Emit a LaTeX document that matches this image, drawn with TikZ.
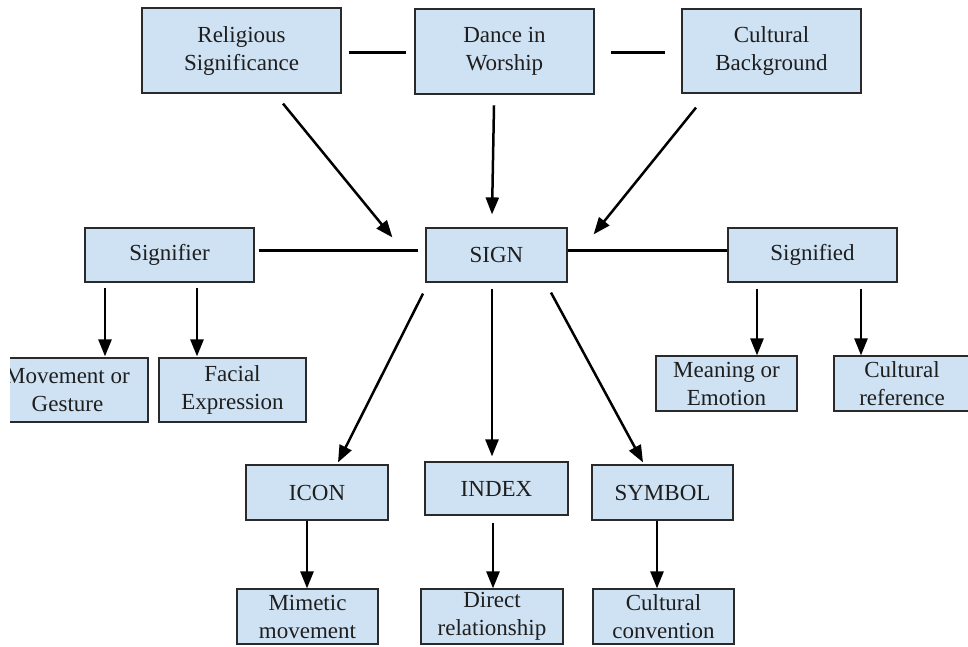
\documentclass[tikz,border=0pt]{standalone}
\usepackage{fontspec}
\setmainfont{Liberation Serif}
\usetikzlibrary{arrows.meta,calc}
\definecolor{boxfill}{HTML}{CFE2F3}
\definecolor{boxline}{HTML}{2A2A2A}
\definecolor{inkc}{HTML}{1E1E1E}
\begin{document}
\begin{tikzpicture}[x=1pt,y=-1pt,
  box/.style={draw=boxline, fill=boxfill, line width=1.2pt, inner sep=0pt, align=center,
    text=inkc, font=\fontsize{23}{28}\selectfont},
  link/.style={draw=black, line width=3pt},
  arr/.style={draw=black, line width=2.5pt, -{Triangle[length=17pt,width=13pt]}}]
\useasboundingbox[fill=white] (0,0) rectangle (968,646);
% top row
\node[box, minimum width=199pt, minimum height=85pt] (rel) at (241.5,50.5) {Religious\\Significance};
\node[box, line width=2.6pt, minimum width=179pt, minimum height=85pt] (dance) at (504.5,51.5) {Dance in\\Worship};
\node[box, minimum width=179pt, minimum height=84pt] (cult) at (771.5,51) {Cultural\\Background};
% middle row
\node[box, minimum width=169pt, minimum height=54pt] (signifier) at (169.5,255) {Signifier};
\node[box, minimum width=141pt, minimum height=54pt] (sign) at (496.5,255) {SIGN};
\node[box, minimum width=169pt, minimum height=54pt] (signified) at (812.5,255) {Signified};
% leaves of signifier / signified
\begin{scope}
\clip (10,330) rectangle (200,440);
\node[box, minimum width=161pt, minimum height=64pt] (move) at (67.5,390) {Movement or\\Gesture};
\end{scope}
\node[box, minimum width=147pt, minimum height=64pt] (facial) at (232.5,390) {Facial\\Expression};
\node[box, minimum width=141pt, minimum height=55pt] (meaning) at (726.5,383.5) {Meaning or\\Emotion};
\node[box, minimum width=136pt, minimum height=55pt] (culref) at (902,383.5) {Cultural\\reference};
% sign types
\node[box, minimum width=142pt, minimum height=55pt] (icon) at (317,492.5) {ICON};
\node[box, minimum width=143pt, minimum height=53pt] (index) at (496.5,488.5) {INDEX};
\node[box, minimum width=141pt, minimum height=55pt] (symbol) at (662.5,492.5) {SYMBOL};
\node[box, minimum width=141pt, minimum height=55pt] (mimetic) at (307.5,616.5) {Mimetic\\movement};
\node[box, minimum width=142pt, minimum height=55pt] (direct) at (492,616.5) {Direct\\relationship};
\node[box, minimum width=141pt, minimum height=55pt] (convention) at (663.5,616.5) {Cultural\\convention};
% plain links
\draw[link, shorten <=7pt, shorten >=8pt] ([yshift=-1.5pt]rel.east) -- ([yshift=-0.5pt]dance.west);
\draw[link, shorten <=16pt, shorten >=16pt] ([yshift=-0.5pt]dance.east) -- ([yshift=-1pt]cult.west);
\draw[link] ([xshift=4pt,yshift=5pt]signifier.east) -- ([xshift=-7pt,yshift=5pt]sign.west);
\draw[link] ([yshift=5pt]sign.east) -- ([yshift=5pt]signified.west);
% arrows
\draw[arr] ([xshift=41.5pt,yshift=-10pt]rel.south) -- ([xshift=-33pt,yshift=-10pt]sign.north west);
\draw[arr] ([xshift=-10.5pt,yshift=-10pt]dance.south) -- ([xshift=-4.5pt,yshift=13pt]sign.north);
\draw[arr] ([xshift=-75.5pt,yshift=-14pt]cult.south) -- ([xshift=26pt,yshift=-7pt]sign.north east);
\draw[arr] ([xshift=-64.5pt,yshift=-5pt]signifier.south) -- ([xshift=37.5pt,yshift=1pt]move.north);
\draw[arr] ([xshift=27.5pt,yshift=-5pt]signifier.south) -- ([xshift=-35.5pt,yshift=1pt]facial.north);
\draw[arr] ([xshift=-55.5pt,yshift=-6pt]signified.south) -- ([xshift=30.5pt]meaning.north);
\draw[arr] ([xshift=48.5pt,yshift=-6pt]signified.south) -- ([xshift=-41pt]culref.north);
\draw[arr] ([xshift=-73.5pt,yshift=-11pt]sign.south) -- ([xshift=21pt,yshift=2pt]icon.north);
\draw[arr] ([xshift=-4.5pt,yshift=-6pt]sign.south) -- ([xshift=-4.5pt,yshift=5pt]index.north);
\draw[arr] ([xshift=54.5pt,yshift=-10pt]sign.south) -- ([xshift=-19.5pt,yshift=2pt]symbol.north);
\draw[arr] ([xshift=-10pt]icon.south) -- ([xshift=-0.5pt]mimetic.north);
\draw[arr] ([xshift=-3.5pt,yshift=-7pt]index.south) -- ([xshift=1pt]direct.north);
\draw[arr] ([xshift=-5.5pt]symbol.south) -- ([xshift=-6.5pt]convention.north);
\end{tikzpicture}
\end{document}
